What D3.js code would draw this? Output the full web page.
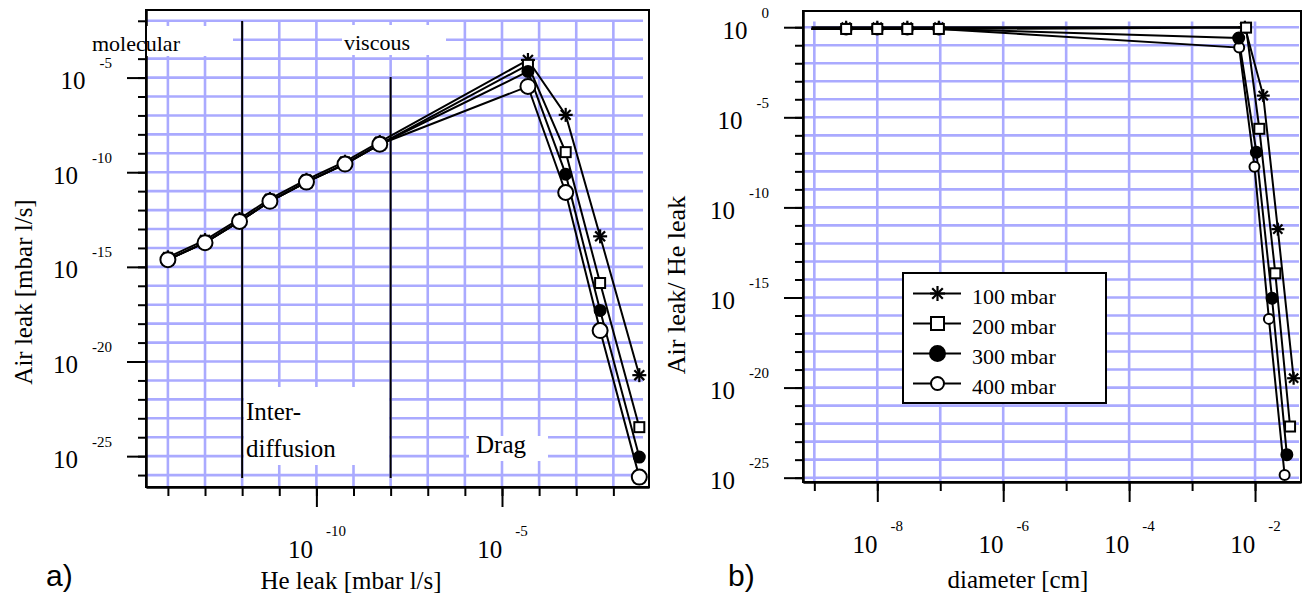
<!DOCTYPE html>
<html>
<head>
<meta charset="utf-8">
<script src="https://cdn.jsdelivr.net/npm/d3@7"></script>
<style>
  body { margin: 0; background: #fff; }
  svg { display: block; font-family: "Liberation Serif", "Times New Roman", serif; }
</style>
</head>
<body>
<svg id="chart" width="1306" height="598"></svg>
<script>
var seriesNames = ["100 mbar", "200 mbar", "300 mbar", "400 mbar"];
var markerTypes = ["star", "square", "dot", "circle"];

// panel a) : He leak vs air leak
var heLeak     = [1e-14, 1e-13, 8.5e-13, 5.6e-12, 5.4e-11, 5.9e-10, 5.1e-9, 5.0e-5, 5.2e-4, 4.4e-3, 5.0e-2];
var airLeak100 = [3.2e-15, 2.6e-14, 3.4e-13, 3.9e-12, 4.0e-11, 3.6e-10, 4.0e-9, 8.5e-5, 1.07e-7, 4.1e-14, 1.9e-21];
var airLeak200 = [2.4e-15, 1.9e-14, 2.5e-13, 2.9e-12, 3.0e-11, 2.7e-10, 3.0e-9, 4.7e-5, 1.15e-9, 1.4e-16, 3.4e-24];
var airLeak300 = [2.4e-15, 1.9e-14, 2.5e-13, 2.9e-12, 3.0e-11, 2.7e-10, 3.0e-9, 2.1e-5, 7.9e-11, 5.0e-18, 8.9e-26];
var airLeak400 = [2.4e-15, 1.9e-14, 2.5e-13, 2.9e-12, 3.0e-11, 2.7e-10, 3.0e-9, 3.4e-6, 8.5e-12, 4.3e-19, 7.8e-27];
var regionBounds = [1e-12, 1e-8];

// panel b) : diameter vs air leak / He leak (first point is where the line starts, no marker)
var diam100  = [9e-10, 3.2e-9, 1e-8, 3e-8, 9.5e-8, 6.9e-3, 1.35e-2, 2.3e-2, 4.1e-2];
var diam200  = [9e-10, 3.2e-9, 1e-8, 3e-8, 9.5e-8, 7.2e-3, 1.17e-2, 2.1e-2, 3.6e-2];
var diam300  = [9e-10, 3.2e-9, 1e-8, 3e-8, 9.5e-8, 5.5e-3, 1.05e-2, 1.86e-2, 3.2e-2];
var diam400  = [9e-10, 3.2e-9, 1e-8, 3e-8, 9.5e-8, 5.6e-3, 9.8e-3, 1.66e-2, 2.95e-2];
var ratio100 = [1.0, 1.0, 1.0, 1.0, 1.0, 1.0, 1.6e-4, 6.2e-12, 3.3e-20];
var ratio200 = [0.8, 0.8, 0.8, 0.8, 0.8, 0.95, 2.3e-6, 2.2e-14, 6.9e-23];
var ratio300 = [0.8, 0.8, 0.8, 0.8, 0.8, 0.25, 1.15e-7, 9.1e-16, 1.9e-24];
var ratio400 = [0.8, 0.8, 0.8, 0.8, 0.8, 0.074, 1.8e-8, 6.5e-17, 1.4e-25];

// tick labels (exponents of ten)
var yLabelsA = [-5, -10, -15, -20, -25];
var xLabelsA = [-10, -5];
var yLabelsB = [0, -5, -10, -15, -20, -25];
var xLabelsB = [-8, -6, -4, -2];

var gridColor = "#aaaaff";
var svg = d3.select("#chart");

function pow10(e) { return Math.pow(10, e); }

function drawMarker(g, type, cx, cy, r) {
  if (type == "star") {
    [0, 45, 90, 135].forEach(function(a) {
      var dx = r * Math.cos(a * Math.PI / 180), dy = r * Math.sin(a * Math.PI / 180);
      g.append("line")
        .attr("x1", cx - dx).attr("y1", cy - dy)
        .attr("x2", cx + dx).attr("y2", cy + dy)
        .attr("stroke", "#000").attr("stroke-width", 2.2);
    });
  } else if (type == "square") {
    g.append("rect")
      .attr("x", cx - r).attr("y", cy - r)
      .attr("width", 2 * r).attr("height", 2 * r)
      .attr("fill", "#fff").attr("stroke", "#000").attr("stroke-width", 2);
  } else {
    g.append("circle")
      .attr("cx", cx).attr("cy", cy).attr("r", r)
      .attr("fill", type == "dot" ? "#000" : "#fff")
      .attr("stroke", "#000").attr("stroke-width", 2);
  }
}

function supLabel(t, e, mainDy, supDx, supDy) {
  t.text(null);
  t.append("tspan").attr("dy", mainDy).text("10");
  t.append("tspan").attr("dx", supDx).attr("dy", supDy).attr("font-size", 15).text(e);
}

// one log-log panel: grid, axes, frame
function panel(cfg) {
  var x = d3.scaleLog().domain([pow10(cfg.xExp[0]), pow10(cfg.xExp[1])]).range([cfg.left, cfg.right]);
  var y = d3.scaleLog().domain([pow10(cfg.yExp[0]), pow10(cfg.yExp[1])]).range([cfg.top, cfg.bottom]);
  var g = svg.append("g");

  var xt = d3.range(cfg.xTicks[0], cfg.xTicks[1] + 1).map(pow10);
  var yt = d3.range(cfg.yTicks[0], cfg.yTicks[1] + 1).map(pow10);

  var grid = g.append("g").attr("stroke", gridColor).attr("stroke-width", 2.6);
  grid.selectAll(".h").data(yt).enter().append("line")
    .attr("x1", cfg.left).attr("x2", cfg.gridRight)
    .attr("y1", function(d) { return y(d); }).attr("y2", function(d) { return y(d); });
  grid.selectAll(".v").data(xt).enter().append("line")
    .attr("y1", cfg.gridTop).attr("y2", cfg.bottom)
    .attr("x1", function(d) { return x(d); }).attr("x2", function(d) { return x(d); });

  var yMaj = cfg.yLabels.map(pow10), xMaj = cfg.xLabels.map(pow10);

  var ax = [
    g.append("g").attr("transform", "translate(" + cfg.left + ",0)")
      .call(d3.axisLeft(y).tickValues(yt).tickSize(8).tickSizeOuter(0).tickFormat("")),
    g.append("g").attr("transform", "translate(0," + cfg.bottom + ")")
      .call(d3.axisBottom(x).tickValues(xt).tickSize(9).tickSizeOuter(0).tickFormat("")),
    g.append("g").attr("transform", "translate(" + cfg.left + ",0)")
      .call(d3.axisLeft(y).tickValues(yMaj).tickSize(19).tickSizeOuter(0)),
    g.append("g").attr("transform", "translate(0," + cfg.bottom + ")")
      .call(d3.axisBottom(x).tickValues(xMaj).tickSize(20).tickSizeOuter(0))
  ];
  ax.forEach(function(a) {
    a.selectAll("line, path").attr("stroke", "#000").attr("stroke-width", 2);
  });

  ax[2].selectAll(".tick text").each(function(d) {
    var t = d3.select(this)
      .attr("x", -34).attr("y", 0).attr("dy", null)
      .attr("text-anchor", "end").attr("fill", "#000")
      .attr("font-family", "Liberation Serif").attr("font-size", 25);
    supLabel(t, Math.round(Math.log10(d)), 11, 14, -21);
  });
  ax[3].selectAll(".tick text").each(function(d) {
    var t = d3.select(this)
      .attr("x", 0).attr("y", 0).attr("dy", null)
      .attr("text-anchor", "middle").attr("fill", "#000")
      .attr("font-family", "Liberation Serif").attr("font-size", 25);
    supLabel(t, Math.round(Math.log10(d)), 71, 13, -22);
  });

  return { g: g, x: x, y: y, cfg: cfg };
}

function whiteBox(g, x0, y0, x1, y1) {
  g.append("rect").attr("x", x0).attr("y", y0)
    .attr("width", x1 - x0).attr("height", y1 - y0).attr("fill", "#fff");
}

function label(g, txt, x, y, size) {
  g.append("text").attr("x", x).attr("y", y).attr("font-size", size).text(txt);
}

function frame(p) {
  var c = p.cfg;
  p.g.append("rect")
    .attr("x", c.left).attr("y", c.top)
    .attr("width", c.right - c.left).attr("height", c.bottom - c.top)
    .attr("fill", "none").attr("stroke", "#000").attr("stroke-width", 2);
}

function plotSeries(p, series, order, sizes, skipFirst) {
  var line = d3.line()
    .x(function(d) { return p.x(d[0]); })
    .y(function(d) { return p.y(d[1]); });
  series.forEach(function(s) {
    p.g.append("path").datum(d3.zip(s.x, s.y))
      .attr("d", line).attr("fill", "none")
      .attr("stroke", "#000").attr("stroke-width", 2);
  });
  order.forEach(function(i) {
    var s = series[i];
    var mg = p.g.append("g");
    s.x.forEach(function(xv, k) {
      if (skipFirst && k == 0) return;
      drawMarker(mg, s.type, p.x(xv), p.y(s.y[k]), sizes[s.type]);
    });
  });
}

// ---------- panel a ----------
var pa = panel({
  left: 146, right: 649, top: 10, bottom: 487,
  xExp: [-14.59, -1.04], yExp: [-1.43, -26.63],
  xTicks: [-14, -2], yTicks: [-26, -2],
  gridRight: 643, gridTop: 21,
  yLabels: yLabelsA, xLabels: xLabelsA
});

regionBounds.forEach(function(b, i) {
  pa.g.append("line")
    .attr("x1", pa.x(b)).attr("x2", pa.x(b))
    .attr("y1", i == 0 ? 21 : 77).attr("y2", 478)
    .attr("stroke", "#000").attr("stroke-width", 2);
});

whiteBox(pa.g, 88, 26, 233, 56);
whiteBox(pa.g, 342, 25, 446, 55);
whiteBox(pa.g, 244, 387, 389, 465);
whiteBox(pa.g, 469, 436, 548, 461);
frame(pa);
label(pa.g, "molecular", 92, 51, 22);
label(pa.g, "viscous", 344, 50, 22);
label(pa.g, "Inter-", 246, 420, 25);
label(pa.g, "diffusion", 246, 457, 25);
label(pa.g, "Drag", 476, 453, 25);

var seriesA = [airLeak100, airLeak200, airLeak300, airLeak400].map(function(v, i) {
  return { name: seriesNames[i], type: markerTypes[i], x: heLeak, y: v };
});
plotSeries(pa, seriesA, [0, 1, 2, 3], { star: 7, square: 5, dot: 5.5, circle: 7.5 }, false);

// ---------- panel b ----------
var pb = panel({
  left: 803, right: 1301, top: 11, bottom: 482,
  xExp: [-9.18, -1.27], yExp: [0.9, -25.24],
  xTicks: [-9, -2], yTicks: [-25, 0],
  gridRight: 1299, gridTop: 21.5,
  yLabels: yLabelsB, xLabels: xLabelsB
});
frame(pb);

var seriesB = [[diam100, ratio100], [diam200, ratio200], [diam300, ratio300], [diam400, ratio400]].map(function(v, i) {
  return { name: seriesNames[i], type: markerTypes[i], x: v[0], y: v[1] };
});
plotSeries(pb, seriesB, [3, 2, 0, 1], { star: 6.5, square: 5, dot: 5.5, circle: 5 }, true);

// legend
var lg = pb.g.append("g");
lg.append("rect").attr("x", 903).attr("y", 273).attr("width", 203).attr("height", 130)
  .attr("fill", "#fff").attr("stroke", "#000").attr("stroke-width", 2);
var legendSizes = { star: 7.5, square: 6.5, dot: 7.5, circle: 6.5 };
seriesNames.forEach(function(n, i) {
  var ly = 293.5 + i * 30;
  lg.append("line").attr("x1", 913).attr("x2", 961).attr("y1", ly).attr("y2", ly)
    .attr("stroke", "#000").attr("stroke-width", 2);
  drawMarker(lg, markerTypes[i], 937.5, ly, legendSizes[markerTypes[i]]);
  label(lg, n, 972, ly + 10, 22);
});

// axis titles and panel tags
svg.append("text").attr("transform", "translate(32,292) rotate(-90)")
  .attr("text-anchor", "middle").attr("font-size", 25).text("Air leak [mbar l/s]");
svg.append("text").attr("transform", "translate(685,285) rotate(-90)")
  .attr("text-anchor", "middle").attr("font-size", 26).text("Air leak/ He leak");
svg.append("text").attr("x", 351).attr("y", 589)
  .attr("text-anchor", "middle").attr("font-size", 25).text("He leak [mbar l/s]");
svg.append("text").attr("x", 1018).attr("y", 588)
  .attr("text-anchor", "middle").attr("font-size", 25).text("diameter [cm]");
svg.append("text").attr("x", 46).attr("y", 586)
  .attr("font-family", "Liberation Sans, Arial, sans-serif").attr("font-size", 30).text("a)");
svg.append("text").attr("x", 728).attr("y", 586)
  .attr("font-family", "Liberation Sans, Arial, sans-serif").attr("font-size", 30).text("b)");
</script>
</body>
</html>
